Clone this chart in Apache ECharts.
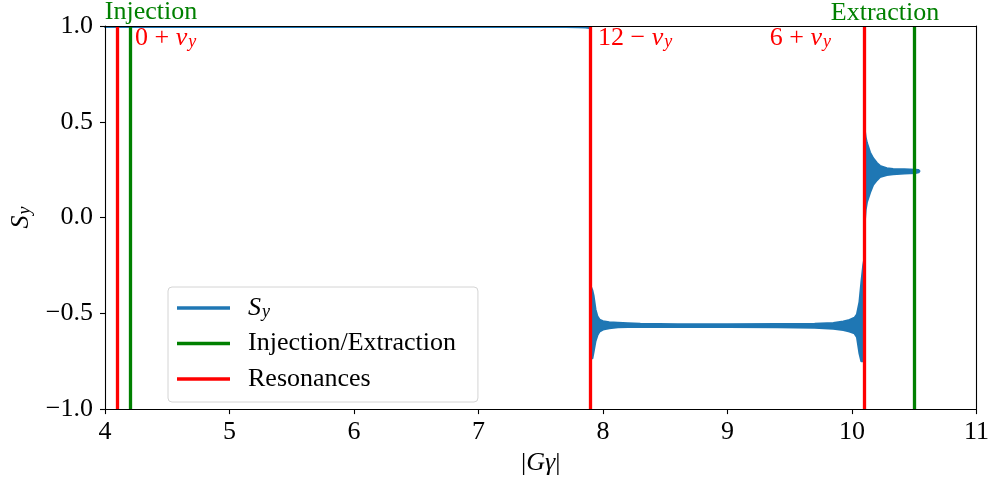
<!DOCTYPE html>
<html>
<head>
<meta charset="utf-8">
<script src="https://cdn.jsdelivr.net/npm/echarts@6/dist/echarts.min.js"></script>
<style>
  html, body { margin: 0; padding: 0; background: #fff; }
  #chart { width: 992px; height: 481px; }
</style>
</head>
<body>
<div id="chart"></div>
<script>
// |Gγ| sample positions and the upper / lower extremes of the oscillating S_y
const gammaG = [
  4.0, 7.70, 7.80, 7.86, 7.89, 7.899,
  7.902, 7.915, 7.925, 7.94, 7.955, 7.972, 8.0, 8.05, 8.12, 8.2, 8.3, 8.6, 9.0, 9.4, 9.7,
  9.85, 9.93, 9.98, 10.02, 10.04, 10.06, 10.075, 10.09, 10.098,
  10.102, 10.11, 10.12, 10.13, 10.145, 10.17, 10.2, 10.225, 10.28, 10.33, 10.42, 10.51, 10.535, 10.542
];
const syUpper = [
  0.995, 0.995, 0.994, 0.992, 0.99, 0.99,
  -0.36, -0.38, -0.41, -0.48, -0.515, -0.533, -0.541, -0.546, -0.549, -0.552, -0.555, -0.557, -0.557, -0.556, -0.554,
  -0.55, -0.543, -0.535, -0.523, -0.505, -0.44, -0.34, -0.25, -0.22,
  0.46, 0.42, 0.39, 0.37, 0.34, 0.31, 0.285, 0.27, 0.258, 0.254, 0.252, 0.25, 0.248, 0.242
];
const syLower = [
  0.995, 0.995, 0.994, 0.992, 0.99, 0.99,
  -0.735, -0.735, -0.70, -0.645, -0.615, -0.595, -0.585, -0.578, -0.573, -0.571, -0.571, -0.572, -0.572, -0.573, -0.575,
  -0.58, -0.587, -0.595, -0.605, -0.625, -0.71, -0.75, -0.75, -0.72,
  -0.03, 0.04, 0.08, 0.10, 0.13, 0.17, 0.195, 0.212, 0.222, 0.226, 0.23, 0.232, 0.236, 0.242
];

// Injection / extraction energies and the spin resonances crossed
const injExt = [4.2, 10.5];
const resonances = [4.1, 7.9, 10.1];

// Axis ticks
const xTicks = [4, 5, 6, 7, 8, 9, 10, 11];
const xTickLabels = ['4', '5', '6', '7', '8', '9', '10', '11'];
const yTicks = [-1, -0.5, 0, 0.5, 1];
const yTickLabels = ['\u22121.0', '\u22120.5', '0.0', '0.5', '1.0'];

const FONT = 'Liberation Serif';
const FS = 26;
const BLUE = '#1f77b4', GREEN = '#008000', RED = '#ff0000';

// rich-text styles for simple math: upright, italic and italic subscript
function mathRich(color) {
  const base = { fontFamily: FONT, color: color, fill: color, verticalAlign: 'top' };
  return {
    rm:  Object.assign({}, base, { fontSize: FS }),
    it:  Object.assign({}, base, { fontSize: FS, fontStyle: 'italic' }),
    sub: Object.assign({}, base, { fontSize: 18, fontStyle: 'italic', padding: [8, 0, 0, 1] })
  };
}

function tickLabel(ticks, labels) {
  return function (v) {
    const i = ticks.findIndex(t => Math.abs(t - v) < 1e-9);
    return i >= 0 ? labels[i] : '';
  };
}

const chart = echarts.init(document.getElementById('chart'), null, { renderer: 'canvas' });

const axisCommon = {
  z: 10,
  axisLine: { show: true, onZero: false, lineStyle: { color: '#000', width: 1.1 } },
  splitLine: { show: false }
};
const tickStyle = { show: true, inside: false, length: 5, lineStyle: { color: '#000', width: 1.1 } };

const option = {
  animation: false,
  backgroundColor: '#fff',
  grid: { left: 104, right: 13.7, top: 26, bottom: 71 },
  xAxis: [
    Object.assign({}, axisCommon, {
      type: 'value', min: 4, max: 11, interval: 1, position: 'bottom',
      axisTick: tickStyle,
      axisLabel: { fontFamily: FONT, fontSize: FS, color: '#000', margin: 10, formatter: tickLabel(xTicks, xTickLabels) },
      name: '{rm||}{it|G\u03b3}{rm||}',
      nameLocation: 'middle', nameGap: 40,
      nameTextStyle: { rich: mathRich('#000') }
    }),
    Object.assign({}, axisCommon, {
      type: 'value', min: 4, max: 11, position: 'top',
      axisTick: { show: false }, axisLabel: { show: false }
    })
  ],
  yAxis: [
    Object.assign({}, axisCommon, {
      type: 'value', min: -1, max: 1, interval: 0.5, position: 'left',
      axisTick: tickStyle,
      axisLabel: { fontFamily: FONT, fontSize: FS, color: '#000', margin: 12, formatter: tickLabel(yTicks, yTickLabels) },
      name: '{it|S}{sub|y}',
      nameLocation: 'middle', nameGap: 71, nameRotate: 90,
      nameTextStyle: { rich: mathRich('#000') }
    }),
    Object.assign({}, axisCommon, {
      type: 'value', min: -1, max: 1, position: 'right',
      axisTick: { show: false }, axisLabel: { show: false }
    })
  ],
  legend: {
    orient: 'vertical', left: 168, top: 287,
    data: [
      { name: 'S_y', icon: 'rect' },
      { name: 'Injection/Extraction', icon: 'rect' },
      { name: 'Resonances', icon: 'rect' }
    ],
    itemWidth: 53, itemHeight: 3.5, itemGap: 9.5,
    padding: [8, 22, 10, 9],
    backgroundColor: 'rgba(255,255,255,0.8)',
    borderColor: '#d4d4d4', borderWidth: 1, borderRadius: 4,
    selectedMode: false,
    itemStyle: { borderWidth: 0 },
    formatter: function (name) {
      return name === 'S_y' ? '{it|S}{sub|y}' : '{rm|' + name + '}';
    },
    textStyle: { fontFamily: FONT, fontSize: FS, color: '#000', padding: [0, 0, 0, 13], rich: mathRich('#000') }
  },
  series: [
    {
      name: 'S_y',
      type: 'custom',
      coordinateSystem: 'cartesian2d',
      xAxisIndex: 0, yAxisIndex: 0,
      z: 2,
      silent: true,
      itemStyle: { color: BLUE },
      data: gammaG.map((g, i) => [g, syUpper[i], syLower[i]]),
      encode: { x: 0, y: [1, 2] },
      renderItem: function (params, api) {
        if (params.dataIndex !== 0) return null;
        const pts = [];
        for (let i = 0; i < gammaG.length; i++) pts.push(api.coord([gammaG[i], syUpper[i]]));
        for (let i = gammaG.length - 1; i >= 0; i--) pts.push(api.coord([gammaG[i], syLower[i]]));
        return {
          type: 'polygon',
          shape: { points: pts },
          style: { fill: BLUE, stroke: BLUE, lineWidth: 2, lineJoin: 'round' }
        };
      }
    },
    {
      name: 'Injection/Extraction',
      type: 'line',
      data: [],
      z: 3,
      itemStyle: { color: GREEN },
      lineStyle: { color: GREEN },
      markLine: {
        silent: true, symbol: ['none', 'none'], label: { show: false },
        lineStyle: { color: GREEN, width: 3.3, type: 'solid' },
        data: injExt.map(v => ({ xAxis: v }))
      }
    },
    {
      name: 'Resonances',
      type: 'line',
      data: [],
      z: 4,
      itemStyle: { color: RED },
      lineStyle: { color: RED },
      markLine: {
        silent: true, symbol: ['none', 'none'], label: { show: false },
        lineStyle: { color: RED, width: 3.3, type: 'solid' },
        data: resonances.map(v => ({ xAxis: v }))
      }
    }
  ],
  graphic: [
    { type: 'text', x: 151, y: 12.5, z: 20, style: { text: 'Injection', fill: GREEN, font: FS + 'px "' + FONT + '"', align: 'center', verticalAlign: 'middle' } },
    { type: 'text', x: 885, y: 13.5, z: 20, style: { text: 'Extraction', fill: GREEN, font: FS + 'px "' + FONT + '"', align: 'center', verticalAlign: 'middle' } },
    { type: 'text', x: 135, y: 25, z: 20, style: { text: '{rm|0 + }{it|\u03bd}{sub|y}', fill: RED, rich: mathRich(RED), align: 'left', verticalAlign: 'top' } },
    { type: 'text', x: 598, y: 25, z: 20, style: { text: '{rm|12 \u2212 }{it|\u03bd}{sub|y}', fill: RED, rich: mathRich(RED), align: 'left', verticalAlign: 'top' } },
    { type: 'text', x: 831, y: 25, z: 20, style: { text: '{rm|6 + }{it|\u03bd}{sub|y}', fill: RED, rich: mathRich(RED), align: 'right', verticalAlign: 'top' } }
  ]
};

chart.setOption(option);
</script>
</body>
</html>
